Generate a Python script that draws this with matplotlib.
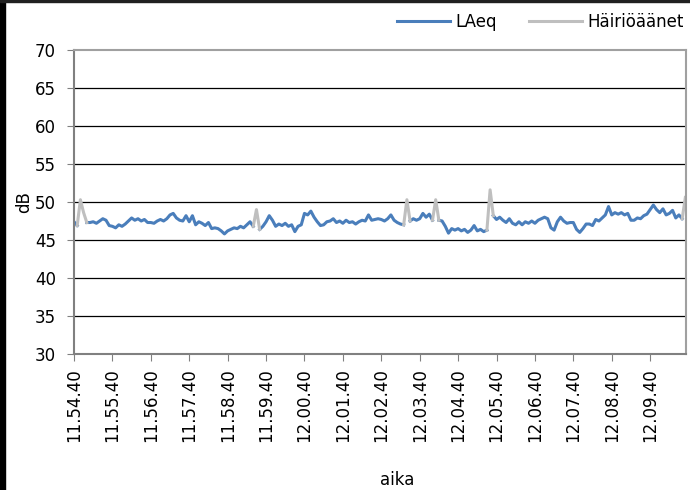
import numpy as np
import matplotlib
matplotlib.use("Agg")
import matplotlib.pyplot as plt
from matplotlib.patches import Rectangle

# mittaus 5 s välein, alku klo 11.54.40
aika_s = np.arange(0, 960, 5)

laeq = [
    47.4, 46.9, 50.3, 48.6, 47.3, 47.3, 47.4, 47.2, 47.5, 47.8, 47.6, 46.9,
    46.8, 46.6, 47.0, 46.8, 47.1, 47.5, 47.9, 47.6, 47.8, 47.5, 47.7, 47.3,
    47.3, 47.2, 47.5, 47.7, 47.5, 47.8, 48.3, 48.5, 47.9, 47.6, 47.5, 48.2,
    47.4, 48.2, 47.0, 47.4, 47.2, 46.9, 47.3, 46.5, 46.6, 46.5, 46.2, 45.8,
    46.2, 46.4, 46.6, 46.5, 46.8, 46.6, 47.0, 47.4, 46.8, 49.0, 46.4, 46.8,
    47.4, 48.2, 47.6, 46.8, 47.1, 46.9, 47.2, 46.8, 47.0, 46.1, 46.8, 47.0,
    48.5, 48.3, 48.8, 48.0, 47.4, 46.9, 47.0, 47.4, 47.5, 47.8, 47.3, 47.5,
    47.2, 47.6, 47.3, 47.4, 47.1, 47.4, 47.6, 47.5, 48.3, 47.6, 47.7, 47.8,
    47.7, 47.5, 47.8, 48.3, 47.6, 47.3, 47.1, 47.0, 50.3, 47.5, 47.8, 47.6,
    47.8, 48.5, 48.0, 48.4, 47.6, 50.3, 47.6, 47.5, 46.8, 45.9, 46.5, 46.3,
    46.5, 46.2, 46.4, 46.0, 46.3, 46.9, 46.2, 46.4, 46.1, 46.3, 51.6, 48.2,
    47.7, 48.0, 47.6, 47.3, 47.8, 47.2, 47.0, 47.4, 47.0, 47.4, 47.2, 47.5,
    47.2, 47.6, 47.8, 48.0, 47.8, 46.6, 46.3, 47.4, 48.0, 47.5, 47.2, 47.3,
    47.3, 46.4, 46.0, 46.5, 47.1, 47.1, 46.9, 47.7, 47.5, 47.9, 48.3, 49.4,
    48.3, 48.6, 48.4, 48.6, 48.3, 48.5, 47.6, 47.6, 47.9, 47.8, 48.2, 48.4,
    49.0, 49.6, 49.0, 48.6, 49.1, 48.3, 48.5, 48.9, 47.9, 48.3, 47.8, 50.6,
]

# häiriöäänten kohdat (indeksit)
hairio_idx = [2, 3, 57, 104, 113, 130, 191]

tick_labels = ['11.54.40', '11.55.40', '11.56.40', '11.57.40', '11.58.40',
               '11.59.40', '12.00.40', '12.01.40', '12.02.40', '12.03.40',
               '12.04.40', '12.05.40', '12.06.40', '12.07.40', '12.08.40',
               '12.09.40']

taso = np.array(laeq)
sininen = taso.copy()
harmaa = np.full_like(taso, np.nan)
for i in hairio_idx:
    sininen[i] = np.nan
for i in hairio_idx:
    for j in (i - 1, i, i + 1):
        if 0 <= j < len(taso):
            harmaa[j] = taso[j]

plt.rcParams['font.family'] = 'DejaVu Sans'
fig = plt.figure(figsize=(6.9, 4.9), dpi=100)
ax = fig.add_axes([74/690, 1 - 354/490, (686 - 74)/690, (354 - 50)/490])

ax.plot(aika_s, sininen, color='#4a7ebb', lw=2.2, label='LAeq')
ax.plot(aika_s, harmaa, color='#bfbfbf', lw=2.2, label='Häiriöäänet')

ax.set_xlim(0, 956)
ax.set_ylim(30, 70)
ax.set_yticks(np.arange(30, 71, 5))
ax.set_xticks(np.arange(0, 960, 60))
ax.set_xticklabels(tick_labels, rotation=90, fontsize=12)
ax.tick_params(axis='y', labelsize=12, length=5, direction='out', color='#808080', pad=8)
ax.tick_params(axis='x', length=5, direction='out', color='#808080', pad=5)

for y in range(35, 70, 5):
    ax.axhline(y, color='black', lw=0.9, zorder=0)

for s in ['left', 'bottom']:
    ax.spines[s].set_color('#808080')
    ax.spines[s].set_linewidth(1.5)
for s in ['top', 'right']:
    ax.spines[s].set_color('#a0a0a0')
    ax.spines[s].set_linewidth(1.5)

ax.set_ylabel('dB', fontsize=12, labelpad=1)
fig.text(397/690, 1 - 480/490, 'aika', fontsize=12, ha='center', va='center')

fig.legend(loc='center right', bbox_to_anchor=(690/690, 1 - 22/490), ncol=2,
           frameon=False, fontsize=12, handlelength=3.2, handletextpad=0.3,
           columnspacing=1.9, borderaxespad=0)

# kuvan reunat
fig.patches.append(Rectangle((0, 0), 5/690, 1, transform=fig.transFigure,
                             color='black', zorder=10))
fig.patches.append(Rectangle((0, 1 - 2/490), 1, 2/490, transform=fig.transFigure,
                             color='#202020', zorder=10))

fig.savefig('out.png', dpi=100)
